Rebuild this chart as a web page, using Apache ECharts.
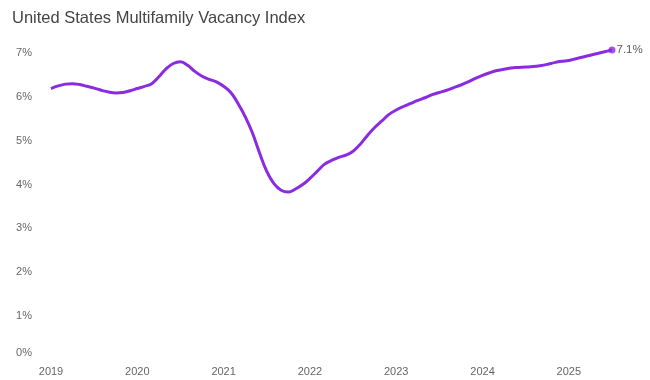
<!DOCTYPE html>
<html>
<head>
<meta charset="utf-8">
<script src="https://cdn.jsdelivr.net/npm/echarts@6/dist/echarts.min.js"></script>
<style>
  html, body { margin: 0; padding: 0; background: #fff; }
  #chart { width: 650px; height: 380px; }
</style>
</head>
<body>
<div id="chart"></div>
<script>
// Monthly observations, 2019-01 .. 2025-07
const months = [
  '2019-01','2019-02','2019-03','2019-04','2019-05','2019-06','2019-07','2019-08','2019-09','2019-10','2019-11','2019-12',
  '2020-01','2020-02','2020-03','2020-04','2020-05','2020-06','2020-07','2020-08','2020-09','2020-10','2020-11','2020-12',
  '2021-01','2021-02','2021-03','2021-04','2021-05','2021-06','2021-07','2021-08','2021-09','2021-10','2021-11','2021-12',
  '2022-01','2022-02','2022-03','2022-04','2022-05','2022-06','2022-07','2022-08','2022-09','2022-10','2022-11','2022-12',
  '2023-01','2023-02','2023-03','2023-04','2023-05','2023-06','2023-07','2023-08','2023-09','2023-10','2023-11','2023-12',
  '2024-01','2024-02','2024-03','2024-04','2024-05','2024-06','2024-07','2024-08','2024-09','2024-10','2024-11','2024-12',
  '2025-01','2025-02','2025-03','2025-04','2025-05','2025-06','2025-07'
];
const vacancyRate = [
  6.19, 6.25, 6.29, 6.30, 6.28, 6.24, 6.20, 6.15, 6.11, 6.09, 6.10, 6.14,
  6.19, 6.24, 6.30, 6.46, 6.64, 6.76, 6.80, 6.72, 6.58, 6.47, 6.40, 6.34,
  6.24, 6.10, 5.85, 5.55, 5.18, 4.72, 4.30, 4.02, 3.87, 3.83, 3.90, 4.00,
  4.14, 4.30, 4.46, 4.55, 4.62, 4.67, 4.76, 4.92, 5.12, 5.30, 5.45, 5.60,
  5.70, 5.78, 5.85, 5.92, 5.98, 6.05, 6.10, 6.15, 6.21, 6.27, 6.34, 6.42,
  6.49, 6.55, 6.60, 6.63, 6.66, 6.67, 6.68, 6.69, 6.71, 6.74, 6.78, 6.81,
  6.83, 6.87, 6.91, 6.95, 6.99, 7.03, 7.07
];
const yearTicks = [2019, 2020, 2021, 2022, 2023, 2024, 2025];
const yTicks = [0, 1, 2, 3, 4, 5, 6, 7];
const titleText = 'United States Multifamily Vacancy Index';

function toYear(m) {
  const [y, mo] = m.split('-').map(Number);
  return y + (mo - 1) / 12;
}
const lineData = months.map((m, i) => [toYear(m), vacancyRate[i]]);
const last = lineData[lineData.length - 1];

const chart = echarts.init(document.getElementById('chart'), null, { renderer: 'canvas' });
chart.setOption({
  animation: false,
  backgroundColor: '#ffffff',
  title: {
    text: titleText,
    left: 7,
    top: 5,
    textStyle: { fontFamily: 'Liberation Sans, Arial, sans-serif', fontSize: 16.5, fontWeight: 'normal', color: '#444' }
  },
  grid: { left: 51, right: 38, top: 53, bottom: 20, containLabel: false },
  xAxis: {
    type: 'value',
    min: yearTicks[0],
    max: last[0],
    interval: 1,
    axisLine: { show: false },
    axisTick: { show: false },
    splitLine: { show: false },
    axisLabel: {
      showMaxLabel: false,
      color: '#666',
      fontFamily: 'Liberation Sans, Arial, sans-serif',
      fontSize: 11,
      margin: 6,
      formatter: v => (yearTicks.includes(v) ? String(v) : '')
    }
  },
  yAxis: {
    type: 'value',
    min: yTicks[0],
    max: yTicks[yTicks.length - 1],
    interval: 1,
    axisLine: { show: false },
    axisTick: { show: false },
    splitLine: { show: false },
    axisLabel: {
      color: '#666',
      fontFamily: 'Liberation Sans, Arial, sans-serif',
      fontSize: 11,
      margin: 19,
      formatter: v => (v === 0 ? '{z|0%}' : v + '%'),
      rich: { z: { color: '#666', fontFamily: 'Liberation Sans, Arial, sans-serif', fontSize: 11, padding: [0, 0, 14, 0] } }
    }
  },
  series: [
    {
      type: 'line',
      data: lineData,
      smooth: 0.4,
      showSymbol: false,
      clip: false,
      lineStyle: { color: '#8A2BE2', width: 3 },
      itemStyle: { color: '#8A2BE2' }
    },
    {
      type: 'scatter',
      data: [last],
      symbol: 'circle',
      symbolSize: 7,
      clip: false,
      itemStyle: { color: '#8A2BE2' },
      label: {
        show: true,
        position: 'right',
        distance: 1,
        formatter: p => p.value[1].toFixed(1) + '%',
        color: '#333',
        fontFamily: 'Liberation Sans, Arial, sans-serif',
        fontSize: 11.5
      }
    }
  ]
});
</script>
</body>
</html>
